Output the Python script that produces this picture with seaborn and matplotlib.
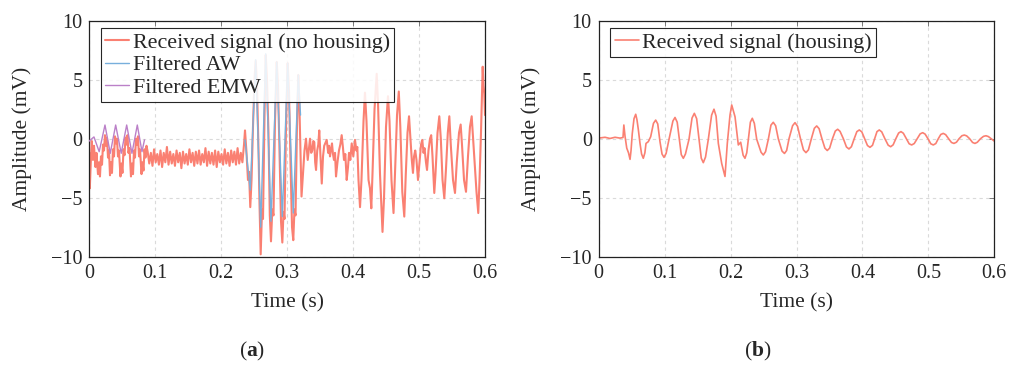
import numpy as np
import matplotlib
matplotlib.use("Agg")
import matplotlib.pyplot as plt
import seaborn as sns

# ---------------------------------------------------------------- data
# (a) received signal without housing: time (s) and amplitude (mV)
rx_head_t = [0.0000, 0.0008, 0.0023, 0.0038, 0.0056, 0.0071, 0.0094, 0.0109, 0.0132, 0.0147,
             0.0162, 0.0177, 0.0193, 0.0208, 0.0223, 0.0238, 0.0253, 0.0268, 0.0284, 0.0299,
             0.0314, 0.0329, 0.0344, 0.0359, 0.0375, 0.0390, 0.0405, 0.0420, 0.0435, 0.0450,
             0.0473, 0.0488, 0.0503, 0.0519, 0.0534, 0.0549, 0.0564, 0.0579, 0.0594, 0.0610,
             0.0632, 0.0647, 0.0663, 0.0678, 0.0693, 0.0708, 0.0723, 0.0738, 0.0754, 0.0769,
             0.0792, 0.0807, 0.0822, 0.0837, 0.0852, 0.0867]
rx_head_v = [-1.2, -4.2, -2.0, -0.2, -1.8, -0.6, -2.4, -1.2, -3.0, -2.0,
             -3.2, -1.5, -2.2, -0.5, -1.0, 0.3, -0.6, 0.1, -1.6, -1.0,
             -3.1, -2.0, -2.9, -0.9, -1.5, 0.2, -0.4, 0.0, -1.5, -1.0,
             -3.2, -2.1, -2.9, -0.9, -1.4, 0.1, -0.5, 0.3, -1.2, -0.8,
             -3.2, -2.1, -3.0, -1.0, -1.6, 0.0, -0.5, 0.2, -1.5, -0.9,
             -3.0, -2.0, -2.7, -0.9, -1.6, -0.6]

# quiet stretch between the two bursts (uniformly sampled)
quiet_start, quiet_end = 0.0885, 0.2346
quiet_v = [-1.1, -2.1, -1.2, -2.3, -0.9, -2.0, -1.3, -2.2, -1.0, -2.4,
           -1.2, -2.0, -0.7, -2.2, -1.1, -2.1, -1.3, -2.3, -1.0, -2.0,
           -1.2, -2.5, -1.1, -2.1, -1.3, -2.2, -0.9, -2.0, -1.2, -2.3,
           -1.1, -2.1, -1.0, -2.2, -1.3, -2.0, -0.8, -2.3, -1.1, -2.1,
           -1.2, -2.2, -1.0, -2.4, -1.1, -2.0, -1.3, -2.2, -0.9, -2.1,
           -1.2, -2.3, -1.0, -2.0, -1.1, -2.2, -0.8, -2.1, -1.2, -2.0, -0.5]

rx_tail_t = [0.2361, 0.2384, 0.2406, 0.2422, 0.2441, 0.2460, 0.2482, 0.2505, 0.2523, 0.2543,
             0.2566, 0.2581, 0.2599, 0.2619, 0.2634, 0.2657, 0.2675, 0.2694, 0.2717, 0.2737,
             0.2755, 0.2775, 0.2793, 0.2816, 0.2842, 0.2861, 0.2884, 0.2907, 0.2927, 0.2945,
             0.2960, 0.2983, 0.3008, 0.3028, 0.3051, 0.3074, 0.3093, 0.3111, 0.3127, 0.3149,
             0.3169, 0.3187, 0.3218, 0.3240, 0.3263, 0.3286, 0.3312, 0.3331, 0.3347, 0.3365,
             0.3381, 0.3397, 0.3412, 0.3425, 0.3438, 0.3456, 0.3472, 0.3487, 0.3506, 0.3525,
             0.3544, 0.3562, 0.3600, 0.3622, 0.3635, 0.3650, 0.3665, 0.3680, 0.3695, 0.3710,
             0.3726, 0.3741, 0.3763, 0.3786, 0.3806, 0.3827, 0.3847, 0.3862, 0.3882, 0.3903,
             0.3923, 0.3938, 0.3958, 0.3979, 0.4003, 0.4029, 0.4049, 0.4064, 0.4082, 0.4105,
             0.4127, 0.4158, 0.4180, 0.4203, 0.4234, 0.4256, 0.4276, 0.4294, 0.4325, 0.4358,
             0.4378, 0.4408, 0.4423, 0.4446, 0.4469, 0.4499, 0.4529, 0.4552, 0.4582, 0.4613,
             0.4635, 0.4666, 0.4693, 0.4716, 0.4746, 0.4776, 0.4799, 0.4825, 0.4848, 0.4870,
             0.4890, 0.4908, 0.4924, 0.4942, 0.4961, 0.4984, 0.5007, 0.5030, 0.5049, 0.5068,
             0.5083, 0.5105, 0.5121, 0.5143, 0.5166, 0.5184, 0.5204, 0.5231, 0.5249, 0.5280,
             0.5307, 0.5330, 0.5356, 0.5383, 0.5409, 0.5436, 0.5459, 0.5481, 0.5515, 0.5545,
             0.5572, 0.5606, 0.5631, 0.5651, 0.5682, 0.5712, 0.5742, 0.5772, 0.5798, 0.5826,
             0.5856, 0.5871, 0.5898, 0.5917, 0.5939, 0.5965, 0.5977, 0.5989, 0.6000]
rx_tail_v = [0.7, -1.2, -3.5, -2.8, -5.8, -3.5, 1.0, 5.0, 6.6, 4.5,
             -1.0, -5.5, -9.8, -6.0, -6.8, 2.0, 7.1, 5.0, 0.5, -6.5,
             -8.7, -6.0, -6.5, 1.5, 6.5, 4.5, -1.0, -7.0, -8.8, -6.2,
             -6.8, 1.0, 6.4, 4.0, -2.0, -7.5, -8.6, -6.0, -6.5, 1.0,
             5.4, 2.5, -4.9, -3.0, -1.0, 0.0, -1.8, -0.8, 0.0, -1.2,
             -1.0, -0.2, -0.3, -2.0, -2.65, -1.0, -0.5, 0.7, -1.5, -3.8,
             -1.5, -0.6, -0.1, -1.2, -0.6, -1.5, -0.9, -0.4, -1.3, -1.8,
             -1.2, -3.2, -2.0, -1.0, -0.5, 0.3, -0.8, -1.8, -1.3, -3.5,
             -2.4, -1.2, -1.8, -0.4, -1.5, -0.1, -1.0, -0.7, -3.5, -5.8,
             -3.5, 1.5, 3.9, 1.5, -3.5, -4.2, -5.9, -3.0, 2.5, 5.5,
             3.0, -3.0, -5.0, -7.9, -5.0, 1.0, 3.6, 1.5, -3.5, -6.3,
             -3.0, 2.0, 4.0, 1.0, -4.5, -6.6, -3.0, 0.5, 1.9, 0.0,
             -1.8, -2.9, -1.5, -1.0, -1.8, -3.5, -2.0, -0.5, -0.1, -1.2,
             -0.8, -2.0, -2.65, -1.0, 0.0, 0.3, -1.5, -4.6, -3.0, 0.5,
             1.9, 0.0, -3.5, -5.05, -2.5, 0.5, 1.9, -0.5, -3.5, -4.6,
             -2.0, 0.5, 1.2, -0.5, -3.5, -4.5, -1.5, 1.0, 1.9, -0.5,
             -3.0, -4.5, -6.3, -3.5, 0.45, 6.1, 4.5, 3.85, 2.0]

# (a) filtered acoustic wave (AW)
aw_t = [0.2361, 0.2441, 0.2523, 0.2599, 0.2675, 0.2755, 0.2842, 0.2927, 0.3008, 0.3093, 0.3169, 0.3203]
aw_v = [-0.1, -4.35, 6.7, -7.5, 7.2, -7.0, 6.5, -6.6, 6.4, -6.3, 5.4, 2.0]

# (a) filtered electromagnetic wave (EMW)
emw_t = [0.0000, 0.0018, 0.0071, 0.0150, 0.0238, 0.0318, 0.0400, 0.0484, 0.0567, 0.0647, 0.0728, 0.0799, 0.0837]
emw_v = [-0.2, -0.1, 0.15, -1.1, 1.16, -1.24, 1.16, -1.24, 1.16, -1.24, 1.16, -1.1, -0.1]

# (b) received signal with housing
hs_t = [0.0000, 0.0096, 0.0171, 0.0247, 0.0323, 0.0368, 0.0381, 0.0399, 0.0425, 0.0452,
        0.0475, 0.0490, 0.0509, 0.0535, 0.0561, 0.0580, 0.0600, 0.0626, 0.0650, 0.0676,
        0.0700, 0.0717, 0.0752, 0.0788, 0.0830, 0.0864, 0.0895, 0.0929, 0.0960, 0.0990,
        0.1022, 0.1066, 0.1125, 0.1157, 0.1190, 0.1222, 0.1252, 0.1283, 0.1315, 0.1369,
        0.1415, 0.1450, 0.1485, 0.1521, 0.1555, 0.1586, 0.1620, 0.1662, 0.1712, 0.1748,
        0.1780, 0.1814, 0.1865, 0.1915, 0.1950, 0.1991, 0.2017, 0.2067, 0.2117, 0.2153,
        0.2190, 0.2218, 0.2245, 0.2268, 0.2300, 0.2329, 0.2360, 0.2396, 0.2462, 0.2496,
        0.2530, 0.2572, 0.2612, 0.2647, 0.2683, 0.2723, 0.2780, 0.2817, 0.2850, 0.2886,
        0.2940, 0.2977, 0.3015, 0.3060, 0.3105, 0.3143, 0.3180, 0.3225, 0.3270, 0.3306,
        0.3342, 0.3385, 0.3430, 0.3466, 0.3502, 0.3545, 0.3588, 0.3624, 0.3660, 0.3710,
        0.3757, 0.3795, 0.3832, 0.3875, 0.3915, 0.3952, 0.3990, 0.4033, 0.4076, 0.4114,
        0.4152, 0.4185, 0.4220, 0.4255, 0.4292, 0.4340, 0.4390, 0.4428, 0.4465, 0.4506,
        0.4548, 0.4584, 0.4620, 0.4665, 0.4708, 0.4746, 0.4785, 0.4830, 0.4875, 0.4913,
        0.4950, 0.4993, 0.5036, 0.5074, 0.5112, 0.5150, 0.5188, 0.5225, 0.5262, 0.5306,
        0.5350, 0.5387, 0.5425, 0.5465, 0.5508, 0.5544, 0.5580, 0.5625, 0.5670, 0.5706,
        0.5742, 0.5790, 0.5836, 0.5873, 0.5910, 0.5998]
hs_v = [0.05, 0.12, 0.02, 0.12, 0.05, 0.10, 1.16, 0.20, -0.80, -1.20,
        -1.75, -1.00, 0.45, 1.70, 2.07, 1.60, 0.80, -0.40, -1.30, -1.66,
        -1.20, -0.40, -0.25, 0.17, 1.30, 1.58, 1.25, -0.25, -1.30, -1.58,
        -1.25, -0.05, 1.50, 1.80, 1.40, 0.00, -1.35, -1.66, -1.30, -0.05,
        1.75, 2.15, 1.70, 0.00, -1.65, -2.03, -1.55, -0.05, 2.00, 2.50,
        1.90, -0.40, -2.10, -3.20, -0.40, 2.00, 2.86, 1.86, -0.53, -0.30,
        -1.40, -1.66, -1.20, -0.10, 1.40, 1.73, 1.30, -0.05, -1.15, -1.38,
        -1.10, -0.05, 1.15, 1.39, 1.10, 0.00, -1.05, -1.25, -1.00, 0.00,
        1.10, 1.36, 1.05, 0.00, -0.95, -1.18, -0.95, 0.00, 0.88, 1.08,
        0.85, 0.00, -0.80, -1.00, -0.80, 0.00, 0.65, 0.80, 0.62, 0.00,
        -0.70, -0.87, -0.68, 0.00, 0.60, 0.74, 0.58, 0.00, -0.58, -0.73,
        -0.56, 0.00, 0.60, 0.74, 0.58, 0.00, -0.55, -0.68, -0.52, 0.00,
        0.48, 0.60, 0.46, 0.00, -0.43, -0.53, -0.41, 0.00, 0.41, 0.51,
        0.39, 0.00, -0.43, -0.53, -0.41, 0.00, 0.36, 0.45, 0.34, 0.00,
        -0.32, -0.40, -0.30, 0.00, 0.25, 0.31, 0.24, 0.00, -0.32, -0.40,
        -0.30, 0.00, 0.20, 0.25, 0.18, -0.20]

x_ticks = [0, 0.1, 0.2, 0.3, 0.4, 0.5, 0.6]
x_tick_labels = ["0", "0.1", "0.2", "0.3", "0.4", "0.5", "0.6"]
y_ticks = [-10, -5, 0, 5, 10]
y_tick_labels = ["\u221210", "\u22125", "0", "5", "10"]

# ---------------------------------------------------------------- style
sns.set_theme(style="white")
plt.rcParams["font.family"] = ["Liberation Serif", "DejaVu Serif"]
plt.rcParams["mathtext.fontset"] = "custom"
plt.rcParams["mathtext.rm"] = "Liberation Serif"
plt.rcParams["mathtext.bf"] = "Liberation Serif:bold"

RED = "#fa8072"
BLUE = "#78afdc"
PURPLE = "#bb80c8"

fig = plt.figure(figsize=(10.1, 3.65), dpi=100)
ax_a = fig.add_axes([0.0884, 0.2967, 0.3918, 0.6466])
ax_b = fig.add_axes([0.5928, 0.2967, 0.3917, 0.6466])

rx_t = np.concatenate([rx_head_t, np.linspace(quiet_start, quiet_end, len(quiet_v)), rx_tail_t])
rx_v = np.concatenate([rx_head_v, quiet_v, rx_tail_v])

sns.lineplot(x=rx_t, y=rx_v, ax=ax_a, color=RED, lw=1.5, sort=False, estimator=None,
             label="Received signal (no housing)", zorder=2)
sns.lineplot(x=aw_t, y=aw_v, ax=ax_a, color=BLUE, lw=1.0, sort=False, estimator=None,
             label="Filtered AW", zorder=3)
sns.lineplot(x=emw_t, y=emw_v, ax=ax_a, color=PURPLE, lw=1.0, sort=False, estimator=None,
             label="Filtered EMW", zorder=3)

sns.lineplot(x=hs_t, y=hs_v, ax=ax_b, color=RED, lw=1.2, sort=False, estimator=None,
             label="Received signal (housing)", zorder=2)

for ax in (ax_a, ax_b):
    ax.set_xlim(0, 0.6)
    ax.set_ylim(-10, 10)
    ax.set_xticks(x_ticks)
    ax.set_xticklabels(x_tick_labels)
    ax.set_yticks(y_ticks)
    ax.set_yticklabels(y_tick_labels)
    ax.tick_params(direction="in", length=3.5, width=0.6, color="#666666",
                   top=True, right=True, labelsize=14.5, pad=5)
    ax.grid(True, linestyle=(0, (3, 3)), color="#dadada", linewidth=0.8)
    ax.set_axisbelow(True)
    for sp in ax.spines.values():
        sp.set_color("#222222")
        sp.set_linewidth(0.9)
    ax.set_xlabel("Time (s)", fontsize=15.5)
    ax.set_ylabel("Amplitude (mV)", fontsize=15.5)
    ax.xaxis.set_label_coords(0.5, -0.155)
    ax.yaxis.set_label_coords(-0.145, 0.5)
    leg = ax.legend(loc="upper left", bbox_to_anchor=(0.029, 0.969), borderaxespad=0,
                    frameon=True, fancybox=False, edgecolor="black", framealpha=0.85,
                    fontsize=15.8, handlelength=1.1, handletextpad=0.15,
                    labelspacing=0.1, borderpad=0.2)
    leg.get_frame().set_linewidth(0.8)

fig.text(0.25, 0.036, r"($\mathbf{a}$)", ha="center", va="center", fontsize=15.5)
fig.text(0.75, 0.036, r"($\mathbf{b}$)", ha="center", va="center", fontsize=15.5)

fig.savefig("out.png", dpi=100)
